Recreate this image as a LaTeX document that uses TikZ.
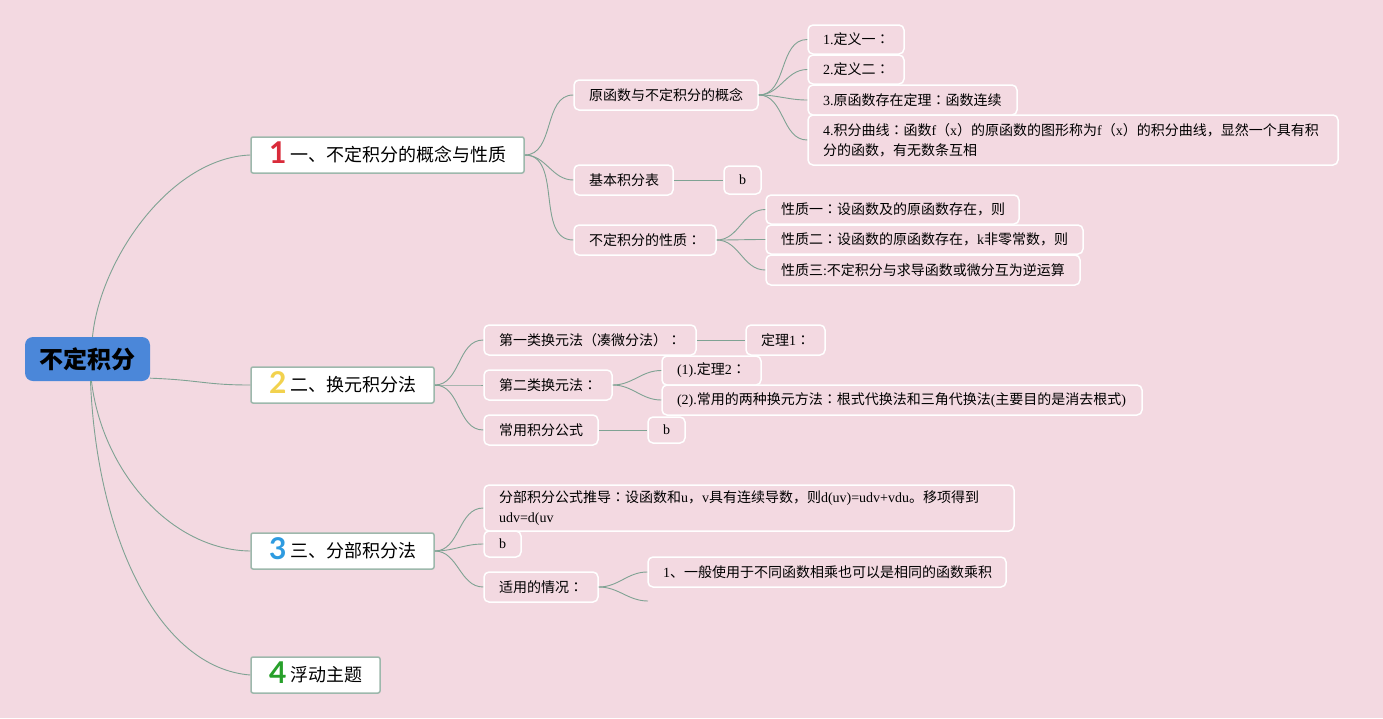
\documentclass[tikz,border=0pt]{standalone}
\usepackage{fontspec}
\setmainfont{Liberation Serif}
\newfontfamily\cjkf{Noto Sans CJK SC}
\newfontfamily\cjtc{Noto Sans CJK TC}
\newfontfamily\iconf{Lato}
\newcommand\cj[1]{{\cjkf #1}}
\newcommand\cc{{\cjtc ：}}
\definecolor{bg}{HTML}{F3D9E1}
\definecolor{linec}{HTML}{7FA293}
\definecolor{brc}{HTML}{9DB8AC}
\definecolor{rootc}{HTML}{4B87D9}
\definecolor{ic1}{HTML}{D92B3A}
\definecolor{ic2}{HTML}{F2D24E}
\definecolor{ic3}{HTML}{2E9BE0}
\definecolor{ic4}{HTML}{27A02A}
\newcommand\ico[2]{\makebox[21pt][l]{\smash{\raisebox{-2pt}{\fontsize{30}{30}\selectfont\iconf\bfseries\color{#1}#2}}}}
\begin{document}
\begin{tikzpicture}[x=1pt,y=-1pt,
  sub/.style={draw=white, line width=1.5pt, fill=bg, rounded corners=5pt, inner xsep=15pt, inner ysep=3pt, minimum height=30pt, align=left, font=\fontsize{14}{20}\selectfont},
  br/.style={draw=brc, line width=1.5pt, fill=white, rounded corners=2pt, inner xsep=18pt, inner ysep=2pt, minimum height=36pt, align=left, font=\fontsize{18}{22}\selectfont},
  rootn/.style={fill=rootc, rounded corners=8pt, minimum width=125pt, minimum height=44pt, font=\fontsize{24}{26}\selectfont},
  conn/.style={draw=linec, line width=0.9pt}]
\fill[bg] (0,0) rectangle (1383,718);
\useasboundingbox (0,0) rectangle (1383,718);

% root and branches
\node[rootn] (root) at (87.5,359) {\cj{\bfseries 不定积分}};
\node[br, text width=237pt] (B1) at (387.5,155) {\ico{ic1}{1}\cj{一、不定积分的概念与性质}};
\node[br, text width=147pt] (B2) at (342.5,385) {\ico{ic2}{2}\cj{二、换元积分法}};
\node[br, text width=147pt] (B3) at (342.5,551) {\ico{ic3}{3}\cj{三、分部积分法}};
\node[br, text width=93pt] (B4) at (315.5,675) {\ico{ic4}{4}\cj{浮动主题}};

% branch 1
\node[sub, text width=154pt] (n11) at (666,95) {\cj{原函数与不定积分的概念}};
\node[sub, text width=69pt] (n12) at (623.5,180) {\cj{基本积分表}};
\node[sub, text width=7pt, minimum height=28pt] (n12b) at (742.5,180) {b};
\node[sub, text width=112pt] (n13) at (645,240) {\cj{不定积分的性质}\cc};
\node[sub, text width=66pt, minimum height=29pt] (n111) at (856,39.5) {1.\cj{定义一}\cc};
\node[sub, text width=66pt, minimum height=29pt] (n112) at (856,69.5) {2.\cj{定义二}\cc};
\node[sub, text width=179pt] (n113) at (912.5,100) {3.\cj{原函数存在定理}\cc\cj{函数连续}};
\node[sub, text width=500pt, minimum height=50pt] (n114) at (1073,140) {4.\cj{积分曲线}\cc\cj{函数}f\cj{（}x\cj{）的原函数的图形称为}f\cj{（}x\cj{）的积分曲线，显然一个具有积}\\\cj{分的函数，有无数条互相}};
\node[sub, text width=223pt, minimum height=29pt] (n131) at (892.5,209.5) {\cj{性质一}\cc\cj{设函数及的原函数存在，则}};
\node[sub, text width=287pt, minimum height=29pt] (n132) at (924.5,239.5) {\cj{性质二}\cc\cj{设函数的原函数存在，}k\cj{非零常数，则}};
\node[sub, text width=284pt] (n133) at (923,270) {\cj{性质三}:\cj{不定积分与求导函数或微分互为逆运算}};

% branch 2
\node[sub, text width=182pt] (n21) at (590,340) {\cj{第一类换元法（凑微分法）}\cc};
\node[sub, text width=49pt] (n21a) at (785.5,340) {\cj{定理}1\cc};
\node[sub, text width=98pt] (n22) at (548,385) {\cj{第二类换元法}\cc};
\node[sub, text width=69pt, minimum height=29pt] (n221) at (711.5,370.5) {(1).\cj{定理}2\cc};
\node[sub, text width=450pt] (n222) at (902,400) {(2).\cj{常用的两种换元方法}\cc\cj{根式代换法和三角代换法}(\cj{主要目的是消去根式})};
\node[sub, text width=84pt] (n23) at (541,430) {\cj{常用积分公式}};
\node[sub, text width=7pt, minimum height=26pt] (n23a) at (666.5,430) {b};

% branch 3
\node[sub, text width=500pt, minimum height=46pt] (n31) at (749,508) {\cj{分部积分公式推导}\cc\cj{设函数和}u\cj{，}v\cj{具有连续导数，则}d(uv)=udv+vdu\cj{。移项得到}\\udv=d(uv};
\node[sub, text width=7pt, minimum height=26pt] (n32) at (502.5,544) {b};
\node[sub, text width=84pt] (n33) at (541,587) {\cj{适用的情况}\cc};
\node[sub, text width=328pt] (n331) at (827,572) {1\cj{、一般使用于不同函数相乘也可以是相同的函数乘积}};
\coordinate (d1) at (648,601);

% connectors root
\draw[conn] ([xshift=5pt]root.north) .. controls (100,260) and (170,158) .. (B1.west);
\draw[conn] (root.-17) .. controls (200,380) and (205,385) .. (B2.west);
\draw[conn] ([xshift=4pt]root.south) .. controls (102,470) and (170,550) .. (B3.west);
\draw[conn] ([xshift=3pt]root.south) .. controls (97,540) and (160,668) .. (B4.west);

% connectors branch 1
\draw[conn] (B1.east) to[out=0,in=180] (n11.west);
\draw[conn] (B1.east) to[out=0,in=180] (n12.west);
\draw[conn] (B1.east) to[out=0,in=180] (n13.west);
\draw[conn] (n11.east) to[out=0,in=180] (n111.west);
\draw[conn] (n11.east) to[out=0,in=180] (n112.west);
\draw[conn] (n11.east) to[out=0,in=180] (n113.west);
\draw[conn] (n11.east) to[out=0,in=180] (n114.west);
\draw[conn] (n12.east) -- (n12b.west);
\draw[conn] (n13.east) to[out=0,in=180] (n131.west);
\draw[conn] (n13.east) to[out=0,in=180] (n132.west);
\draw[conn] (n13.east) to[out=0,in=180] (n133.west);

% connectors branch 2
\draw[conn] (B2.east) to[out=0,in=180] (n21.west);
\draw[conn] (B2.east) to[out=0,in=180] (n22.west);
\draw[conn] (B2.east) to[out=0,in=180] (n23.west);
\draw[conn] (n21.east) -- (n21a.west);
\draw[conn] (n22.east) to[out=0,in=180] (n221.west);
\draw[conn] (n22.east) to[out=0,in=180] (n222.west);
\draw[conn] (n23.east) -- (n23a.west);

% connectors branch 3
\draw[conn] (B3.east) to[out=0,in=180] (n31.west);
\draw[conn] (B3.east) to[out=0,in=180] (n32.west);
\draw[conn] (B3.east) to[out=0,in=180] (n33.west);
\draw[conn] (n33.east) to[out=0,in=180] (n331.west);
\draw[conn] (n33.east) to[out=0,in=180] (d1);
\end{tikzpicture}
\end{document}
